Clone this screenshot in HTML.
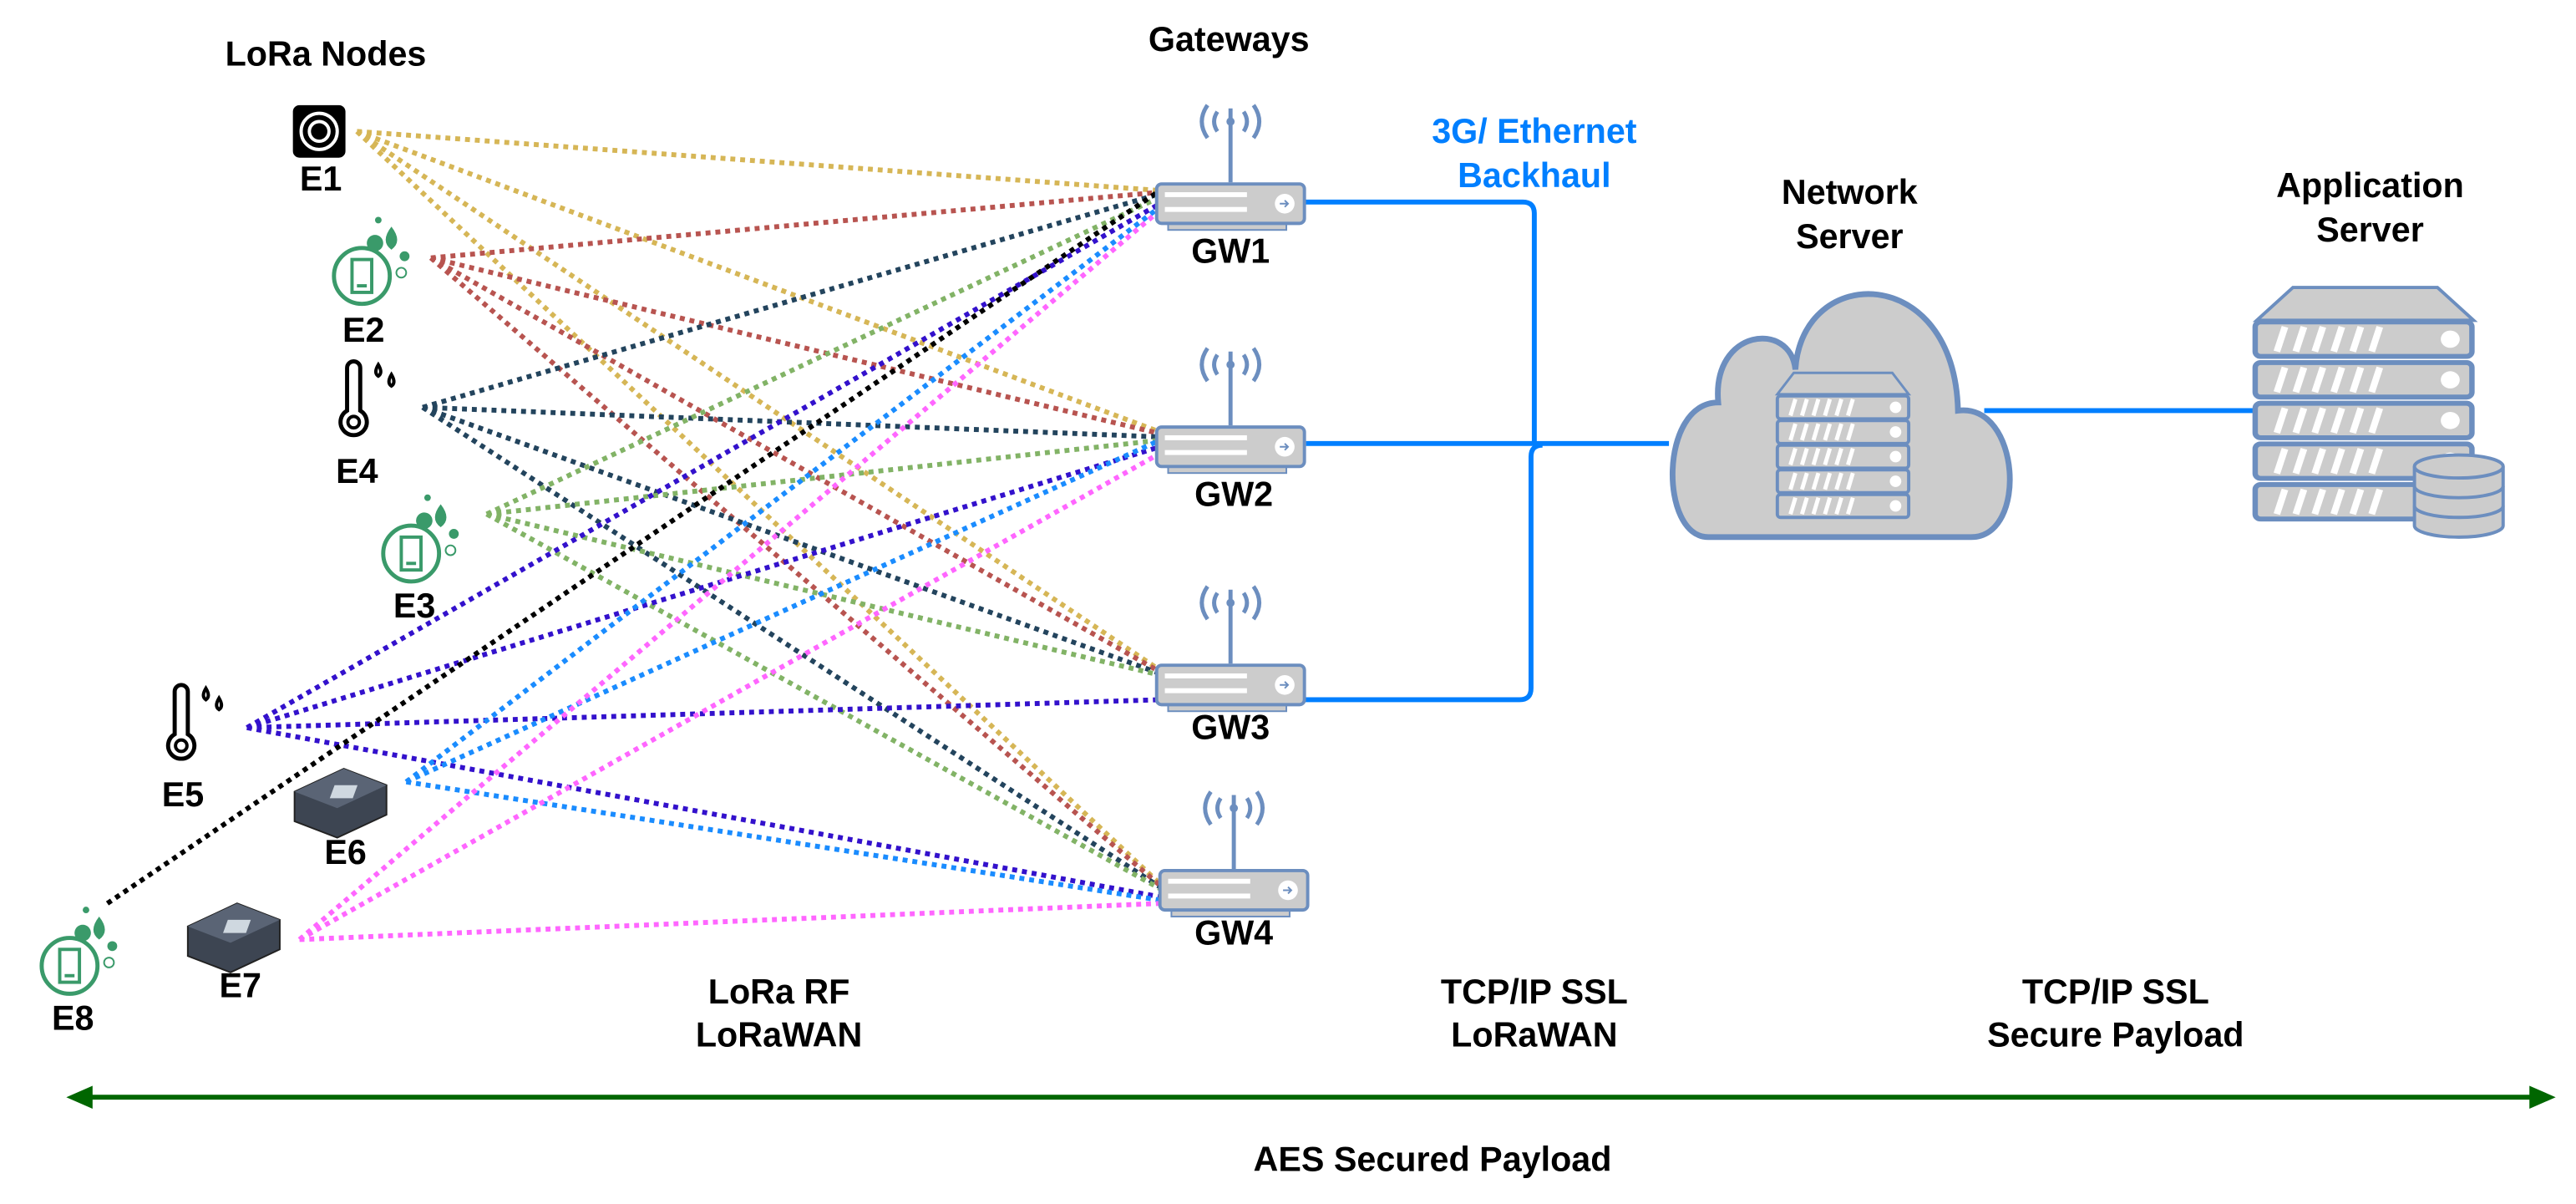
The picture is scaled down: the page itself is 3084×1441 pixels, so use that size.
<!DOCTYPE html>
<html><head><meta charset="utf-8"><style>
html,body{margin:0;padding:0;background:#fff;}
svg{display:block;}
text{font-family:"Liberation Sans",sans-serif;font-weight:bold;text-anchor:middle;}
</style></head><body>
<svg width="3084" height="1441" viewBox="0 0 1568 733" xmlns="http://www.w3.org/2000/svg">
<defs>
<g id="gw">
  <path d="M-14,-52 q-7,10 0,20 M-8,-48 q-4,6 0,12 M14,-52 q7,10 0,20 M8,-48 q4,6 0,12" stroke="#6c8ebf" stroke-width="2.5" fill="none"/>
  <line x1="0" y1="-50" x2="0" y2="-5" stroke="#6c8ebf" stroke-width="2.5"/>
  <circle cx="0" cy="-42" r="2.5" fill="#6c8ebf"/>
  <rect x="-38" y="20" width="72" height="4" fill="#ccc" stroke="#6c8ebf" stroke-width="1"/>
  <rect x="-45" y="-4" width="90" height="24" rx="3" fill="#ccc" stroke="#6c8ebf" stroke-width="2"/>
  <g fill="#fff"><rect x="-40" y="1" width="50" height="3"/><rect x="-40" y="10" width="50" height="3"/></g>
  <circle cx="33" cy="8" r="6" fill="#fff"/>
  <path d="M30,8 h5 M33,6 l2,2 -2,2" stroke="#6c8ebf" stroke-width="1" fill="none"/>
</g>
<g id="srv">
  <rect x="0" y="0" width="80" height="14" rx="2" fill="#ccc" stroke="#6c8ebf" stroke-width="2"/>
  <path d="M8,12 l3,-10 M15,12 l3,-10 M22,12 l3,-10 M29,12 l3,-10 M36,12 l3,-10 M43,12 l3,-10" stroke="#fff" stroke-width="2.5"/>
  <circle cx="72" cy="7" r="3.5" fill="#fff"/>
</g>
<g id="sensor">
  <circle cx="0" cy="0" r="17" fill="none" stroke="#3a9a6a" stroke-width="2.5"/>
  <rect x="-6" y="-10" width="12" height="20" fill="none" stroke="#3a9a6a" stroke-width="2"/>
  <line x1="-3" y1="6" x2="3" y2="6" stroke="#3a9a6a" stroke-width="2"/>
  <circle cx="8" cy="-20" r="5" fill="#3a9a6a"/>
  <path d="M18,-30 q-7,9 0,14 q7,-5 0,-14z" fill="#3a9a6a"/>
  <circle cx="26" cy="-12" r="3" fill="#3a9a6a"/><circle cx="24" cy="-2" r="3" fill="none" stroke="#3a9a6a"/>
  <circle cx="10" cy="-34" r="2" fill="#3a9a6a"/>
</g>
<g id="thermo">
  <path d="M-4,-22 a4,4 0 0 1 8,0 v26 a8,8 0 1 1 -8,0z" fill="none" stroke="#000" stroke-width="2.5"/>
  <circle cx="0" cy="11" r="3.5" fill="none" stroke="#000" stroke-width="2"/>
  <path d="M15,-24 q-3,5 0,7 q3,-2 0,-7z M23,-18 q-3,5 0,7 q3,-2 0,-7z" fill="none" stroke="#000" stroke-width="2"/>
</g>
<g id="box">
  <path d="M-26,-8 l30,-14 l26,10 v18 l-30,14 l-26,-10z" fill="#3d4552" stroke="#222" stroke-width="1"/>
  <path d="M-26,-8 l30,-14 l26,10 l-30,14z" fill="#5a6475"/>
  <rect x="-6" y="-12" width="14" height="8" fill="#cfd8e0" transform="skewX(-20)"/>
</g>
</defs>

<text x="198" y="40" font-size="21">LoRa Nodes</text>
<text x="748" y="31" font-size="21">Gateways</text>

<g fill="none" stroke-width="3" stroke-dasharray="3 3">
 <g stroke="#d6b656"><path d="M217,80 L706,116 M217,80 L706,263 M217,80 L706,408 M217,80 L706,538"/></g>
 <g stroke="#b85450"><path d="M262,157 L706,117 M262,157 L706,264 M262,157 L706,409 M262,157 L706,539"/></g>
 <g stroke="#23445d"><path d="M257,248 L706,118 M257,248 L706,266 M257,248 L706,410 M257,248 L706,540"/></g>
 <g stroke="#82b366"><path d="M296,313 L706,120 M296,313 L706,268 M296,313 L706,411 M296,313 L706,541"/></g>
 <g stroke="#3311cc"><path d="M150,443 L706,124 M150,443 L706,272 M150,443 L706,426 M150,443 L706,546"/></g>
 <g stroke="#1a8cff"><path d="M247,476 L706,126 M247,476 L706,268 M247,476 L706,548"/></g>
 <g stroke="#ff66ff"><path d="M182,572 L706,128 M182,572 L706,276 M182,572 L706,550"/></g>
 <path stroke="#000" d="M65,550 L706,116"/>
</g>

<rect x="178" y="64" width="32" height="32" rx="4" fill="#000"/>
<circle cx="194" cy="80" r="11" fill="none" stroke="#fff" stroke-width="2"/>
<circle cx="194" cy="80" r="6" fill="none" stroke="#fff" stroke-width="2"/>
<text x="195" y="116" font-size="21">E1</text>
<use href="#sensor" x="220" y="168"/>
<text x="221" y="208" font-size="21">E2</text>
<use href="#thermo" x="215" y="246"/>
<text x="217" y="294" font-size="21">E4</text>
<use href="#sensor" x="250" y="337"/>
<text x="252" y="376" font-size="21">E3</text>
<use href="#thermo" x="110" y="443"/>
<text x="111" y="491" font-size="21">E5</text>
<use href="#box" x="205" y="490"/>
<text x="210" y="526" font-size="21">E6</text>
<use href="#box" x="140" y="572"/>
<text x="146" y="607" font-size="21">E7</text>
<use href="#sensor" x="42" y="588"/>
<text x="44" y="627" font-size="21">E8</text>

<g fill="none" stroke="#007fff" stroke-width="3">
 <path d="M793,123 H927 q7,0 7,7 V270"/>
 <path d="M795,270 H1016"/>
 <path d="M793,426 H925 q7,0 7,-7 V278 q0,-7 7,-7"/>
 <path d="M1208,250 H1374"/>
</g>

<use href="#gw" x="749" y="116"/>
<text x="749" y="160" font-size="21">GW1</text>
<use href="#gw" x="749" y="264"/>
<text x="751" y="308" font-size="21">GW2</text>
<use href="#gw" x="749" y="409"/>
<text x="749" y="450" font-size="21">GW3</text>
<use href="#gw" x="751" y="534"/>
<text x="751" y="575" font-size="21">GW4</text>

<text x="934" y="87" font-size="21" fill="#007fff">3G/ Ethernet</text>
<text x="934" y="114" font-size="21" fill="#007fff">Backhaul</text>
<text x="1126" y="124" font-size="21">Network</text>
<text x="1126" y="151" font-size="21">Server</text>
<text x="1443" y="120" font-size="21">Application</text>
<text x="1443" y="147" font-size="21">Server</text>

<path d="M1040,327 C1010,327 1010,245 1046,245 C1042,200 1090,195 1093,225 C1097,160 1190,160 1192,250 C1230,245 1235,327 1200,327 Z" fill="#ccc" stroke="#6c8ebf" stroke-width="3.5"/>
<path d="M1082,240 l10,-13 h60 l10,13z" fill="#ccc" stroke="#6c8ebf" stroke-width="1.5"/>
<g transform="translate(1082,241)"><use href="#srv"/><use href="#srv" y="15"/><use href="#srv" y="30"/><use href="#srv" y="45"/><use href="#srv" y="60"/></g>

<path d="M1374,195 l22,-20 h88 l22,20z" fill="#ccc" stroke="#6c8ebf" stroke-width="2"/>
<g transform="translate(1373,196) scale(1.65,1.5)"><use href="#srv"/><use href="#srv" y="16.5"/><use href="#srv" y="33"/><use href="#srv" y="49.5"/><use href="#srv" y="66"/></g>
<g fill="#ccc" stroke="#6c8ebf" stroke-width="2">
 <path d="M1470,284 v36 a27,7 0 0 0 54,0 v-36"/>
 <ellipse cx="1497" cy="284" rx="27" ry="7"/>
 <path d="M1470,296 a27,7 0 0 0 54,0 M1470,308 a27,7 0 0 0 54,0" fill="none"/>
</g>

<text x="474" y="611" font-size="21">LoRa RF</text>
<text x="474" y="637" font-size="21">LoRaWAN</text>
<text x="934" y="611" font-size="21">TCP/IP SSL</text>
<text x="934" y="637" font-size="21">LoRaWAN</text>
<text x="1288" y="611" font-size="21">TCP/IP SSL</text>
<text x="1288" y="637" font-size="21">Secure Payload</text>

<line x1="50" y1="668" x2="1545" y2="668" stroke="#006600" stroke-width="3"/>
<path d="M40,668 l16,-7 v14z M1556,668 l-16,-7 v14z" fill="#006600"/>
<text x="872" y="713" font-size="21">AES Secured Payload</text>
</svg>
</body></html>
